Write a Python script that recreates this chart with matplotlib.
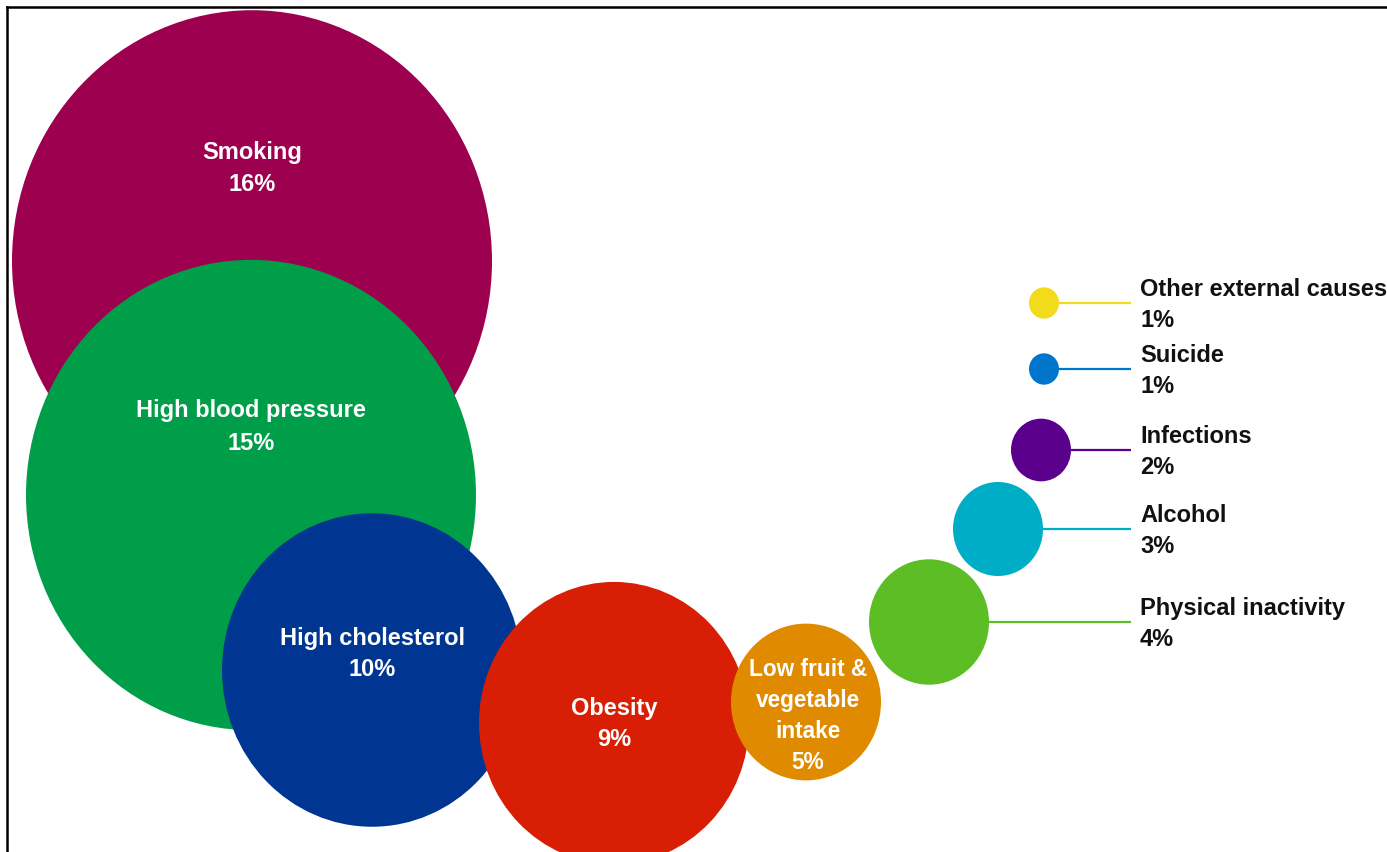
#!/usr/bin/env python3
"""
Bubble chart of risk factors (share of burden), big bubbles trailing off to the right.
"""

import matplotlib
matplotlib.use("Agg")
import matplotlib.pyplot as plt
import matplotlib.patches as mpatches
from matplotlib.lines import Line2D

# Data
risk_factors = ['Smoking', 'High blood pressure', 'High cholesterol', 'Obesity',
                'Low fruit &\nvegetable\nintake', 'Physical inactivity', 'Alcohol',
                'Infections', 'Suicide', 'Other external causes']
percent = [16, 15, 10, 9, 5, 4, 3, 2, 1, 1]

# Layout (pixel space of the 1387x853 canvas)
centers = [(252, 262), (251, 496), (372, 671), (614, 724), (806, 703),
           (929, 623), (998, 530), (1041, 451), (1044, 370), (1044, 304)]
inside_label = [True, True, True, True, True, False, False, False, False, False]
label_pos = [(252, 168), (251, 427), (372, 654), (614, 724), (808, 716)]
colors = ['#9E0050', '#009E49', '#003692', '#D81E05', '#E08A00',
          '#5CBD24', '#00ADC6', '#5A008C', '#0075CC', '#F2DB1A']

PX_PER_PCT = 15.0     # bubble radius per percentage point
Y_STRETCH = 1.045     # bubbles are a touch taller than wide
LEADER_END = 1131
RIGHT_TEXT_X = 1140

W, H = 1387, 853
fig = plt.figure(figsize=(W / 100, H / 100), dpi=100)
ax = fig.add_axes([0, 0, 1, 1])
ax.set_xlim(0, W)
ax.set_ylim(H, 0)
ax.axis('off')

font = ['Liberation Sans', 'DejaVu Sans']

for i, (name, val) in enumerate(zip(risk_factors, percent)):
    cx, cy = centers[i]
    r = val * PX_PER_PCT
    ell = mpatches.Ellipse((cx, cy), 2 * r, 2 * r * Y_STRETCH,
                           facecolor=colors[i], edgecolor='none', zorder=2 + i)
    ax.add_patch(ell)
    text = f'{name}\n{val}%'
    if inside_label[i]:
        tx, ty = label_pos[i]
        if '\n' in name:
            fs, ls = 16.3, 1.45
        else:
            fs, ls = 17, 1.5
        ax.text(tx, ty, text, ha='center', va='center', color='white',
                fontsize=fs, fontweight='bold', family=font,
                linespacing=ls, zorder=20)
    else:
        # leader line from the bubble to its label on the right
        ax.plot([cx, LEADER_END], [cy, cy], color=colors[i], lw=1.6,
                solid_capstyle='butt', zorder=1)
        ax.text(RIGHT_TEXT_X, cy + 1, text, ha='left', va='center', color='#111111',
                fontsize=17, fontweight='bold', family=font,
                linespacing=1.42, zorder=20)

# Thin frame at the top and left edges
fig.add_artist(Line2D([7 / W, 1], [1 - 8 / H, 1 - 8 / H], color='black', lw=1.8,
                      transform=fig.transFigure))
fig.add_artist(Line2D([7 / W, 7 / W], [0, 1 - 8 / H], color='black', lw=1.8,
                      transform=fig.transFigure))

fig.savefig('out.png', dpi=100, facecolor='white')
plt.close(fig)
